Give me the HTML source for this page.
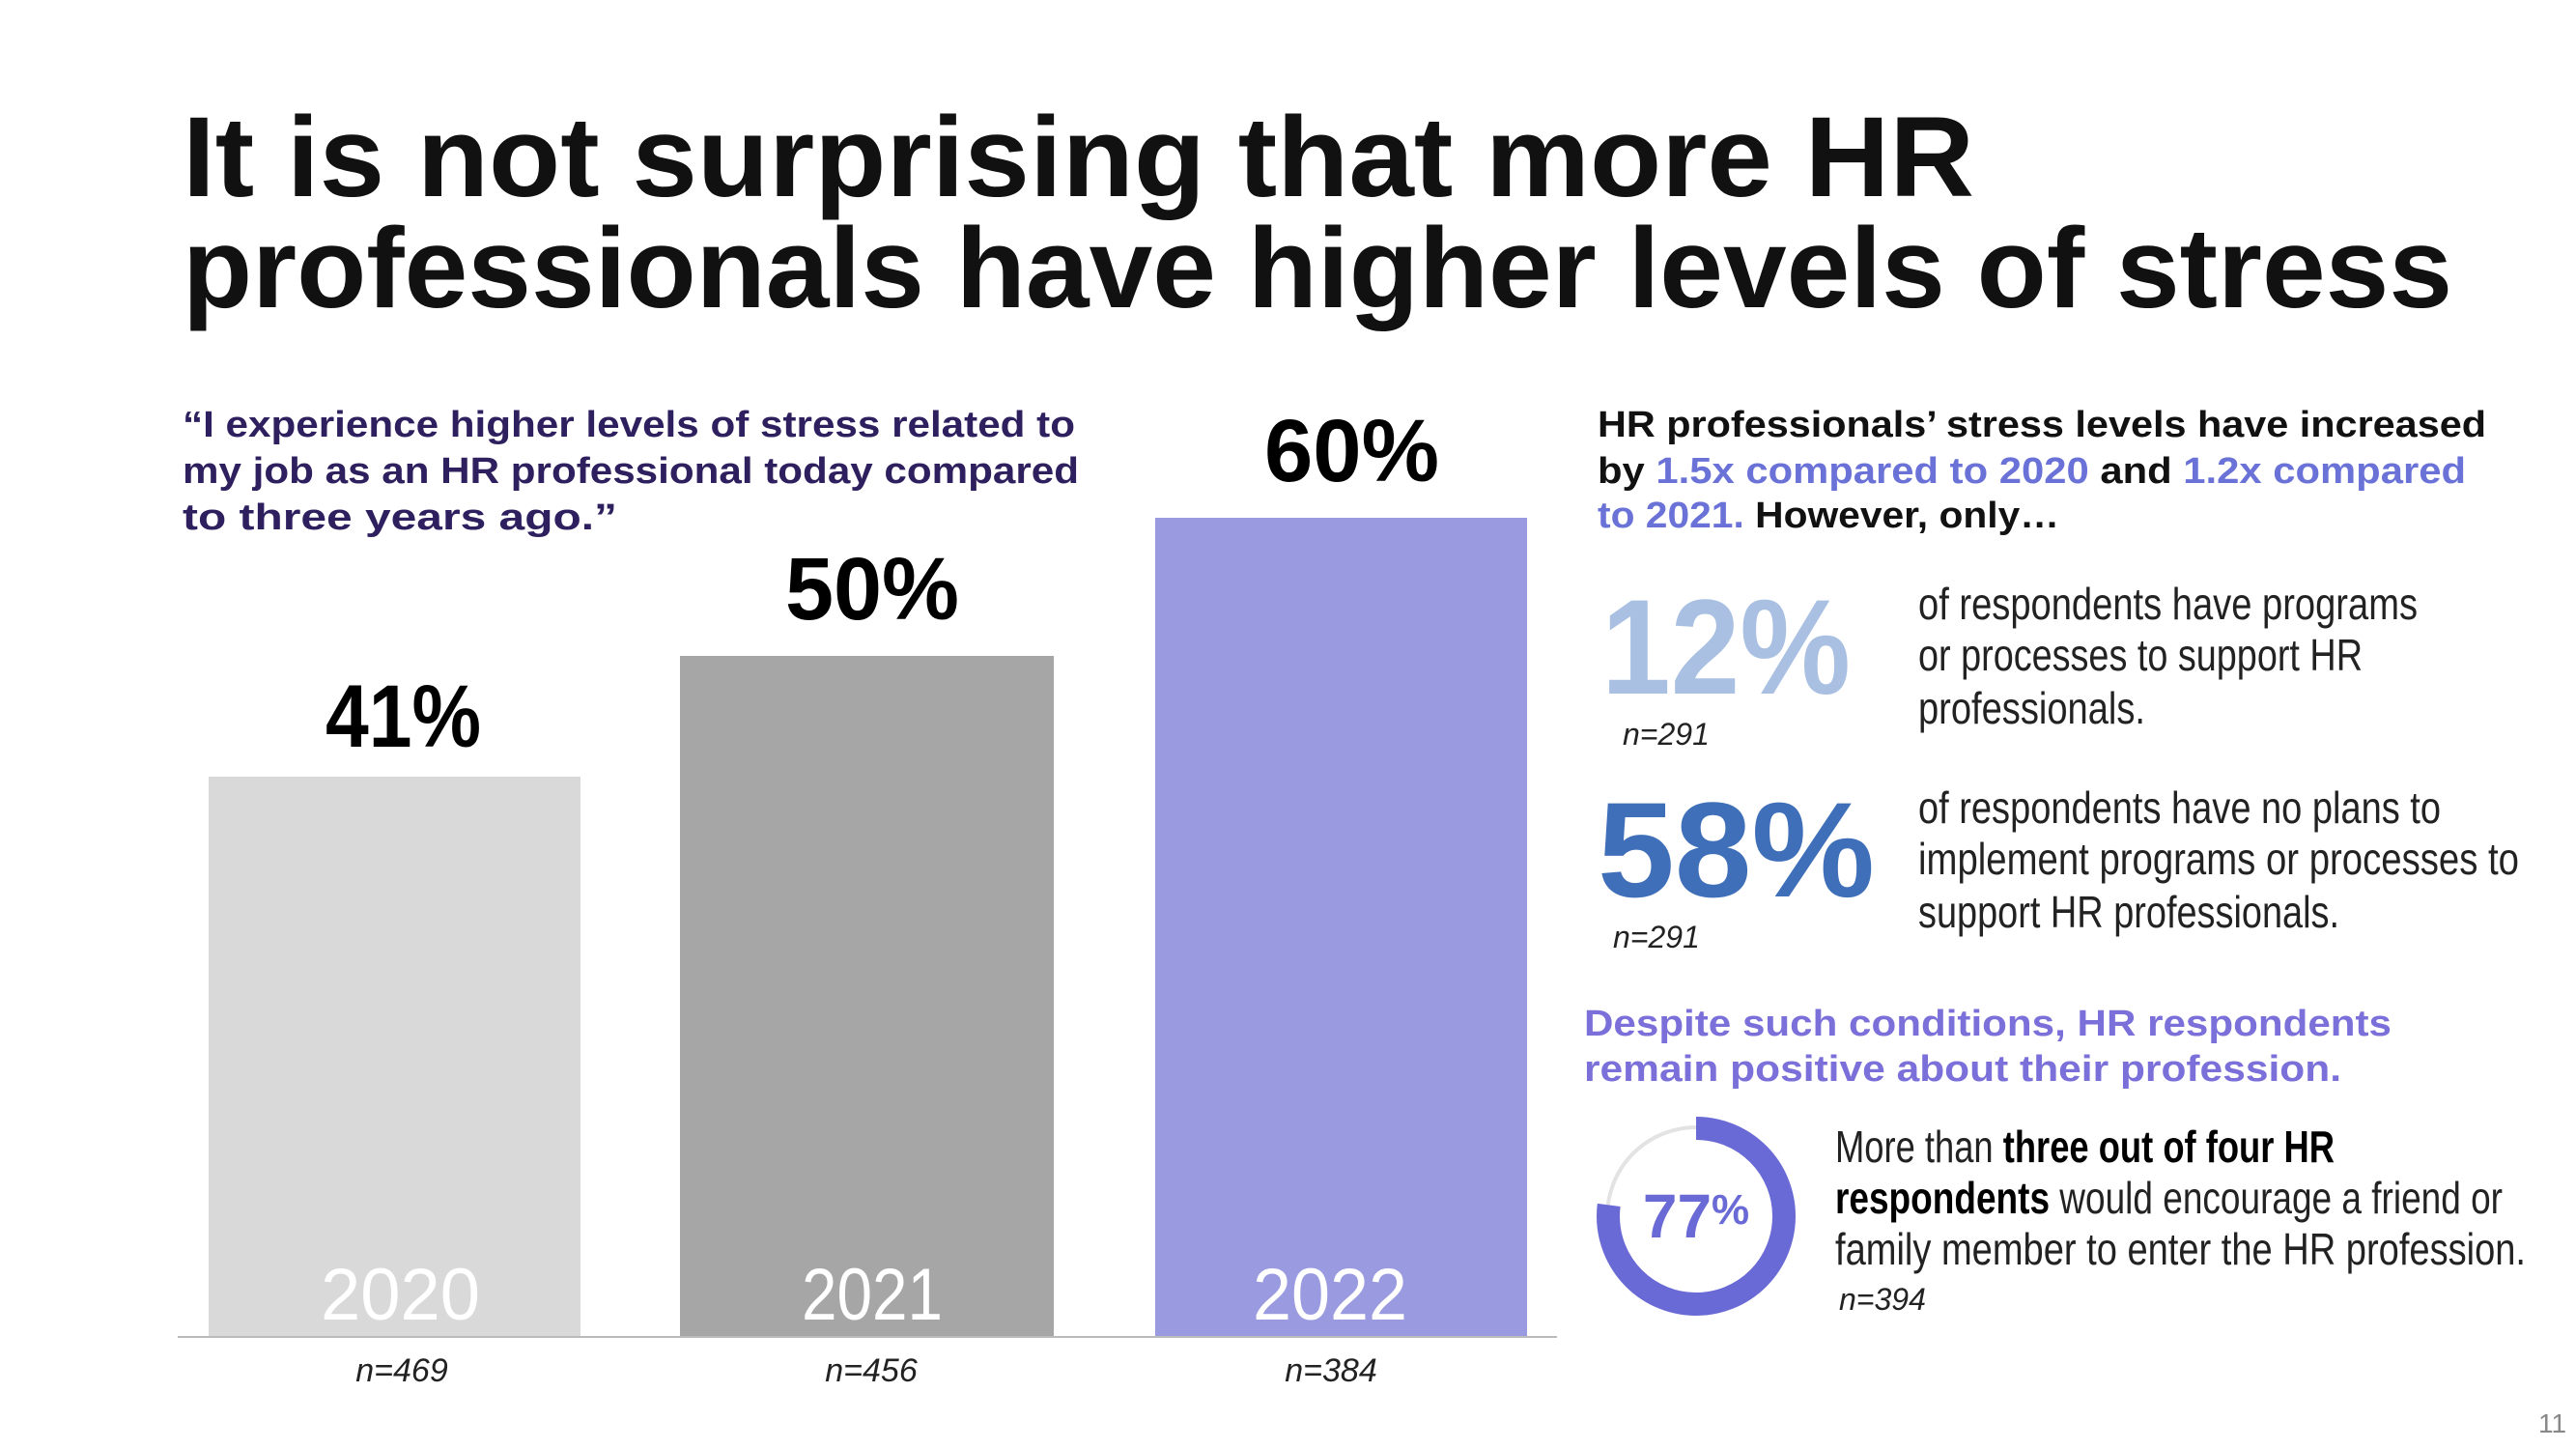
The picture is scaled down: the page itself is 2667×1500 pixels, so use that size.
<!DOCTYPE html>
<html><head><meta charset="utf-8"><style>
html,body{margin:0;padding:0;background:#fff;width:2667px;height:1500px;overflow:hidden}
svg{display:block}
.t{font-family:"Liberation Sans",sans-serif;font-weight:bold}
.n{font-family:"Liberation Sans Narrow","Liberation Sans",sans-serif}
</style></head><body>
<svg width="2667" height="1500" viewBox="0 0 2667 1500" xmlns="http://www.w3.org/2000/svg">
<rect width="2667" height="1500" fill="#fff"/>
<g class="t" fill="#111" font-size="118">
<text x="189" y="203" textLength="1855" lengthAdjust="spacingAndGlyphs">It is not surprising that more HR</text>
<text x="189" y="318" textLength="2350" lengthAdjust="spacingAndGlyphs">professionals have higher levels of stress</text>
</g>
<g class="t" fill="#2e1f5e" font-size="38">
<text x="189" y="452" textLength="924" lengthAdjust="spacingAndGlyphs">“I experience higher levels of stress related to</text>
<text x="189" y="500" textLength="928" lengthAdjust="spacingAndGlyphs">my job as an HR professional today compared</text>
<text x="189" y="548" textLength="450" lengthAdjust="spacingAndGlyphs">to three years ago.”</text>
</g>
<rect x="216" y="804" width="385" height="579" fill="#d9d9d9"/>
<rect x="704" y="679" width="387" height="704" fill="#a6a6a6"/>
<rect x="1196" y="536" width="385" height="847" fill="#9a9ae0"/>
<line x1="184" y1="1384" x2="1612" y2="1384" stroke="#bbb" stroke-width="2"/>
<g class="n" font-weight="bold" font-size="92" fill="#000">
<text x="337" y="773" textLength="161" lengthAdjust="spacingAndGlyphs">41%</text>
<text x="813" y="641" textLength="180" lengthAdjust="spacingAndGlyphs">50%</text>
<text x="1309" y="498" textLength="181" lengthAdjust="spacingAndGlyphs">60%</text>
</g>
<g class="n" font-size="76" fill="#fff">
<text x="332" y="1366" textLength="165" lengthAdjust="spacingAndGlyphs">2020</text>
<text x="830" y="1366" textLength="146" lengthAdjust="spacingAndGlyphs">2021</text>
<text x="1297" y="1366" textLength="160" lengthAdjust="spacingAndGlyphs">2022</text>
</g>
<g class="n" font-style="italic" font-size="34" fill="#222" text-anchor="middle">
<text x="416" y="1430">n=469</text>
<text x="902" y="1430">n=456</text>
<text x="1378" y="1430">n=384</text>
</g>
<text class="t" font-size="38" fill="#111" x="1654" y="452" textLength="920" lengthAdjust="spacingAndGlyphs">HR professionals’ stress levels have increased</text>
<text class="t" font-size="38" fill="#111" x="1654" y="500" textLength="899" lengthAdjust="spacingAndGlyphs">by <tspan fill="#6a72d8">1.5x compared to 2020</tspan> and <tspan fill="#6a72d8">1.2x compared</tspan></text>
<text class="t" font-size="38" fill="#111" x="1654" y="546" textLength="478" lengthAdjust="spacingAndGlyphs"><tspan fill="#6a72d8">to 2021.</tspan> However, only…</text>
<text class="t" font-size="140" font-weight="normal" fill="#a9c0e2" x="1658" y="718" textLength="258" lengthAdjust="spacingAndGlyphs">12%</text>
<text class="t" font-size="140" fill="#3f6fb8" x="1654" y="928" textLength="287" lengthAdjust="spacingAndGlyphs">58%</text>
<g class="n" font-style="italic" font-size="32" fill="#222">
<text x="1680" y="771">n=291</text>
<text x="1670" y="981">n=291</text>
<text x="1904" y="1356">n=394</text>
</g>
<g class="n" font-size="46" fill="#222">
<text x="1986" y="641" textLength="517" lengthAdjust="spacingAndGlyphs">of respondents have programs</text>
<text x="1986" y="694" textLength="460" lengthAdjust="spacingAndGlyphs">or processes to support HR</text>
<text x="1986" y="749" textLength="235" lengthAdjust="spacingAndGlyphs">professionals.</text>
<text x="1986" y="852" textLength="541" lengthAdjust="spacingAndGlyphs">of respondents have no plans to</text>
<text x="1986" y="905" textLength="622" lengthAdjust="spacingAndGlyphs">implement programs or processes to</text>
<text x="1986" y="960" textLength="436" lengthAdjust="spacingAndGlyphs">support HR professionals.</text>
<text x="1900" y="1203" textLength="517" lengthAdjust="spacingAndGlyphs">More than <tspan font-weight="bold" fill="#000">three out of four HR</tspan></text>
<text x="1900" y="1256" textLength="691" lengthAdjust="spacingAndGlyphs"><tspan font-weight="bold" fill="#000">respondents</tspan> would encourage a friend or</text>
<text x="1900" y="1309" textLength="715" lengthAdjust="spacingAndGlyphs">family member to enter the HR profession.</text>
</g>
<g class="t" font-size="38" fill="#7b70d9">
<text x="1640" y="1072" textLength="836" lengthAdjust="spacingAndGlyphs">Despite such conditions, HR respondents</text>
<text x="1640" y="1119" textLength="784" lengthAdjust="spacingAndGlyphs">remain positive about their profession.</text>
</g>
<circle cx="1756" cy="1259" r="92" fill="none" stroke="#e3e3e3" stroke-width="4"/>
<circle cx="1756" cy="1259" r="91" fill="none" stroke="#6a6ad6" stroke-width="24" stroke-dasharray="440.3 571.8" transform="rotate(-90 1756 1259)"/>
<text class="n" x="1756" y="1281" text-anchor="middle" font-size="64" fill="#6a6ad6" font-weight="bold">77<tspan font-size="44" dy="-14">%</tspan></text>
<text class="n" x="2628" y="1483" font-size="28" fill="#888">11</text>
</svg>
</body></html>
